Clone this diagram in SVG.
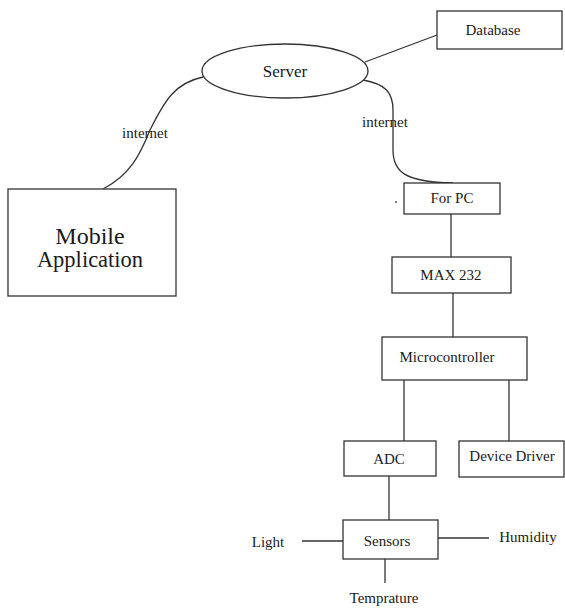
<svg xmlns="http://www.w3.org/2000/svg" width="565" height="608" viewBox="0 0 565 608">
<style>
.box{fill:#fff;stroke:#333;stroke-width:1.3}
.ln{fill:none;stroke:#333;stroke-width:1.3}
text{font-family:'Liberation Serif','DejaVu Serif',serif;fill:#1a1a1a;text-anchor:middle;font-size:15px}
.big{font-size:22.5px}
</style>
<rect width="565" height="608" fill="#fff"/>
<g id="connectors">
<path class="ln" d="M365,62 L437,35"/>
<path class="ln" d="M363,80 C385,84 393,92 393,110 L393,150 C393,172 405,182 453,183"/>
<path class="ln" d="M203,77 C175,83 165,100 150,130 C140,155 130,175 103,189"/>
<path class="ln" d="M451,214 V257"/>
<path class="ln" d="M453,293 V337"/>
<path class="ln" d="M404,380 V441"/>
<path class="ln" d="M509,380 V441"/>
<path class="ln" d="M389,476 V520"/>
<path class="ln" d="M302,541 H343"/>
<path class="ln" d="M438,538 H489"/>
<path class="ln" d="M385,559 V583"/>
<circle cx="396" cy="202" r="1" fill="#555"/>
<text x="145" y="138">internet</text>
<text x="385" y="127">internet</text>
</g>
<g id="database"><rect class="box" x="437" y="11" width="125" height="38"/><text x="493" y="35">Database</text></g>
<g id="server"><ellipse class="box" cx="285" cy="71" rx="83" ry="27"/><text x="285" y="77" style="font-size:17px">Server</text></g>
<g id="mobile"><rect class="box" x="8" y="189" width="168" height="107"/><text class="big" x="90" y="244" style="font-size:24px">Mobile</text><text class="big" x="90" y="267">Application</text></g>
<g id="forpc"><rect class="box" x="404" y="183" width="96" height="31"/><text x="452" y="203">For PC</text></g>
<g id="max232"><rect class="box" x="392" y="257" width="119" height="36"/><text x="451" y="280">MAX 232</text></g>
<g id="micro"><rect class="box" x="382" y="337" width="145" height="43"/><text x="447" y="362">Microcontroller</text></g>
<g id="adc"><rect class="box" x="344" y="441" width="92" height="35"/><text x="389" y="464">ADC</text></g>
<g id="driver"><rect class="box" x="459" y="441" width="105" height="36"/><text x="512" y="461">Device Driver</text></g>
<g id="sensors"><rect class="box" x="343" y="520" width="95" height="39"/><text x="387" y="546">Sensors</text></g>
<g id="light"><text x="268" y="547">Light</text></g>
<g id="humidity"><text x="528" y="542">Humidity</text></g>
<g id="temp"><text x="384" y="603">Temprature</text></g>
</svg>
